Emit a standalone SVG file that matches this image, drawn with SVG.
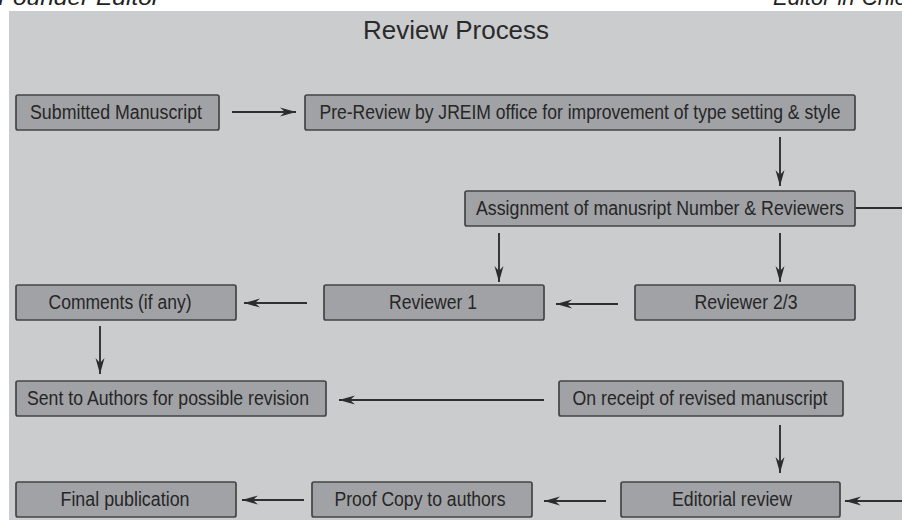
<svg xmlns="http://www.w3.org/2000/svg" width="902" height="520" viewBox="0 0 902 520">
<defs>
<style>
.bg{fill:#cbccce}
.box rect{fill:#a1a2a5;stroke:#444;stroke-width:1.7}
.box text{font-family:"Liberation Sans",Arial,sans-serif;font-size:19.5px;fill:#262626;text-anchor:middle}
.hdr{font-family:"Liberation Sans",Arial,sans-serif;font-style:italic;font-size:22px;fill:#222}
.title{font-family:"Liberation Sans",Arial,sans-serif;font-size:25px;fill:#2a2a2a;text-anchor:middle}
.conn line{stroke:#303030;stroke-width:1.9;fill:none}
</style>
<marker id="ah" viewBox="0 0 16 10" refX="16" refY="5" markerWidth="16" markerHeight="10" markerUnits="userSpaceOnUse" orient="auto">
<path d="M0,0.5 L16,5 L0,9.5 L5,5 z" fill="#2c2c2c"/>
</marker>
</defs>
<rect x="0" y="0" width="902" height="520" fill="#ffffff"/>
<rect class="bg" x="9" y="11" width="893" height="509"/>
<text class="hdr" x="-2" y="5" textLength="162" lengthAdjust="spacingAndGlyphs">Founder Editor</text>
<text class="hdr" x="773" y="5">Editor-in-Chief</text>
<text class="title" x="456" y="39" textLength="186" lengthAdjust="spacingAndGlyphs">Review Process</text>

<g class="conn">
<line x1="232" y1="112" x2="296" y2="112" marker-end="url(#ah)"/>
<line x1="780" y1="137" x2="780" y2="186" marker-end="url(#ah)"/>
<line x1="855" y1="208" x2="902" y2="208"/>
<line x1="499" y1="233" x2="499" y2="282" marker-end="url(#ah)"/>
<line x1="780" y1="233" x2="780" y2="282" marker-end="url(#ah)"/>
<line x1="618" y1="304" x2="556" y2="304" marker-end="url(#ah)"/>
<line x1="307" y1="303" x2="244" y2="303" marker-end="url(#ah)"/>
<line x1="100" y1="326" x2="100" y2="374" marker-end="url(#ah)"/>
<line x1="544" y1="400" x2="339" y2="400" marker-end="url(#ah)"/>
<line x1="780" y1="425" x2="780" y2="473" marker-end="url(#ah)"/>
<line x1="902" y1="501" x2="845" y2="501" marker-end="url(#ah)"/>
<line x1="606" y1="501" x2="544" y2="501" marker-end="url(#ah)"/>
<line x1="304" y1="500" x2="242" y2="500" marker-end="url(#ah)"/>
</g>

<g id="submitted" class="box"><rect x="16" y="95" width="203" height="35" rx="2"/><text x="116" y="119" textLength="172" lengthAdjust="spacingAndGlyphs">Submitted Manuscript</text></g>
<g id="prereview" class="box"><rect x="305" y="95" width="550" height="35" rx="2"/><text x="580" y="119" textLength="521" lengthAdjust="spacingAndGlyphs">Pre-Review by JREIM office for improvement of type setting &amp; style</text></g>
<g id="assignment" class="box"><rect x="465" y="191" width="390" height="35" rx="2"/><text x="660" y="215" textLength="368" lengthAdjust="spacingAndGlyphs">Assignment of manusript Number &amp; Reviewers</text></g>
<g id="comments" class="box"><rect x="16" y="285" width="220" height="35" rx="2"/><text x="120" y="309" textLength="143" lengthAdjust="spacingAndGlyphs">Comments (if any)</text></g>
<g id="reviewer1" class="box"><rect x="324" y="285" width="220" height="35" rx="2"/><text x="433" y="309" textLength="88" lengthAdjust="spacingAndGlyphs">Reviewer 1</text></g>
<g id="reviewer23" class="box"><rect x="635" y="285" width="220" height="35" rx="2"/><text x="746" y="309" textLength="103" lengthAdjust="spacingAndGlyphs">Reviewer 2/3</text></g>
<g id="sent" class="box"><rect x="16" y="381" width="310" height="35" rx="2"/><text x="168" y="405" textLength="282" lengthAdjust="spacingAndGlyphs">Sent to Authors for possible revision</text></g>
<g id="receipt" class="box"><rect x="559" y="381" width="284" height="35" rx="2"/><text x="700" y="405" textLength="255" lengthAdjust="spacingAndGlyphs">On receipt of revised manuscript</text></g>
<g id="final" class="box"><rect x="16" y="482" width="220" height="35" rx="2"/><text x="125" y="506" textLength="129" lengthAdjust="spacingAndGlyphs">Final publication</text></g>
<g id="proof" class="box"><rect x="312" y="482" width="220" height="35" rx="2"/><text x="420" y="506" textLength="171" lengthAdjust="spacingAndGlyphs">Proof Copy to authors</text></g>
<g id="editorial" class="box"><rect x="621" y="482" width="219" height="35" rx="2"/><text x="732" y="506" textLength="120" lengthAdjust="spacingAndGlyphs">Editorial review</text></g>
</svg>
